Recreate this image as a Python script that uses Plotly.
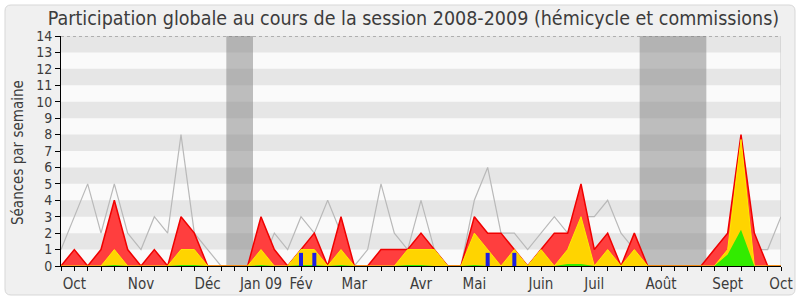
import plotly.graph_objects as go

# --- data (week index 0..54) ---
weeks = list(range(55))
median_line = [1, 3, 5, 2, 5, 2, 1, 3, 2, 8, 2, 1, 0, 0, 0, 0, 2, 1, 3, 2,
               4, 2, 0, 1, 5, 2, 1, 4, 1, 0, 0, 4, 6, 2, 2, 1, 2, 3, 2, 3,
               3, 4, 2, 1, 0, 0, 0, 0, 0, 1, 2, 4, 1, 1, 3]
total = [0, 1, 0, 1, 4, 1, 0, 1, 0, 3, 2, 0, 0, 0, 0, 3, 1, 0, 1, 2,
         0, 3, 0, 0, 1, 1, 1, 2, 1, 0, 0, 3, 2, 2, 1, 0, 1, 2, 2, 5,
         1, 2, 0, 2, 0, 0, 0, 0, 0, 1, 2, 8, 2, 0, 0]
hemicycle = [0, 0, 0, 0, 1, 0, 0, 0, 0, 1, 1, 0, 0, 0, 0, 1, 0, 0, 1, 1,
             0, 1, 0, 0, 0, 0, 1, 1, 1, 0, 0, 2, 1, 0, 1, 0, 1, 0, 1, 3,
             0, 1, 0, 1, 0, 0, 0, 0, 0, 0, 1, 7.7, 0, 0, 0]
interventions = [0, 0, 0, 0, 0.06, 0, 0, 0, 0, 0.06, 0.06, 0, 0, 0, 0, 0.06, 0, 0, 0.06, 0.06,
                 0, 0.06, 0, 0, 0, 0, 0.06, 0.06, 0, 0, 0, 0.06, 0, 0, 0, 0, 0, 0, 0.12, 0.12,
                 0, 0, 0, 0, 0, 0, 0, 0, 0, 0, 0.7, 2.2, 0, 0, 0]
question_weeks = [18, 19, 32, 34]
question_values = [0.8, 0.8, 0.8, 0.8]
vacations = [(12.4, 14.4), (43.4, 48.4)]
month_pos = [1, 6, 11, 15, 18, 22, 27, 31, 36, 40, 45, 50, 54]
month_labels = ["Oct", "Nov", "Déc", "Jan 09", "Fév", "Mar", "Avr", "Mai",
                "Juin", "Juil", "Août", "Sept", "Oct"]
ymax = 14
xmax = 54

FONT = "DejaVu Sans Condensed, DejaVu Sans, sans-serif"
TXT = "rgb(60,60,60)"

fig = go.Figure()
fig.add_trace(go.Scatter(x=weeks, y=median_line, mode="lines",
                         line=dict(color="rgb(185,185,185)", width=1.2),
                         hoverinfo="skip"))
fig.add_trace(go.Scatter(x=weeks, y=total, mode="lines", fill="tozeroy",
                         fillcolor="rgb(255,62,62)",
                         line=dict(color="rgb(240,0,0)", width=1.5),
                         hoverinfo="skip"))
fig.add_trace(go.Scatter(x=weeks, y=hemicycle, mode="lines", fill="tozeroy",
                         fillcolor="rgb(255,212,0)",
                         line=dict(color="rgb(255,235,0)", width=1),
                         hoverinfo="skip"))
fig.add_trace(go.Scatter(x=weeks, y=interventions, mode="lines", fill="tozeroy",
                         fillcolor="rgb(50,235,0)",
                         line=dict(color="rgb(50,235,0)", width=0),
                         hoverinfo="skip"))
bx, by = [], []
for w, v in zip(question_weeks, question_values):
    bx += [w, w, None]
    by += [0, v, None]
fig.add_trace(go.Scatter(x=bx, y=by, mode="lines",
                         line=dict(color="rgb(30,30,225)", width=4),
                         hoverinfo="skip"))

# --- background shapes ---
W, H = 800, 300
L, R, T, B = 61, 19, 36, 34
pw, ph = W - L - R, H - T - B

def px(xp):
    return (xp - L) / pw

def py(yp):
    return (H - B - yp) / ph

x0, x1, y0, y1 = px(5), px(795), py(295), py(5)
rx, ry = 6 / pw, 6 / ph
path = (f"M {x0+rx},{y1} L {x1-rx},{y1} Q {x1},{y1} {x1},{y1-ry} "
        f"L {x1},{y0+ry} Q {x1},{y0} {x1-rx},{y0} L {x0+rx},{y0} "
        f"Q {x0},{y0} {x0},{y0+ry} L {x0},{y1-ry} Q {x0},{y1} {x0+rx},{y1} Z")
shapes = [dict(type="path", path=path, xref="paper", yref="paper",
               fillcolor="rgb(240,240,240)", line=dict(color="rgb(215,215,215)", width=1),
               layer="below")]
shapes.append(dict(type="rect", xref="x", yref="y", x0=0, x1=xmax, y0=0, y1=ymax,
                   fillcolor="rgb(250,250,250)", line=dict(width=0), layer="below"))
for k in range(1, ymax, 2):
    shapes.append(dict(type="rect", xref="x", yref="y", x0=0, x1=xmax, y0=k, y1=k + 1,
                       fillcolor="rgb(230,230,230)", line=dict(width=0), layer="below"))
for a, b in vacations:
    shapes.append(dict(type="rect", xref="x", yref="y", x0=a, x1=b, y0=0, y1=ymax,
                       fillcolor="rgba(128,128,128,0.5)", line=dict(width=0), layer="below"))
shapes.append(dict(type="line", xref="x", yref="y", x0=0, x1=xmax, y0=ymax, y1=ymax,
                   line=dict(color="rgb(120,120,120)", width=1, dash="dot"), layer="below"))
shapes.append(dict(type="line", xref="x", yref="y", x0=xmax, x1=xmax, y0=0, y1=ymax,
                   line=dict(color="rgb(200,200,200)", width=1), layer="below"))

fig.update_layout(
    width=W, height=H,
    margin=dict(l=L, r=R, t=T, b=B, pad=0, autoexpand=False),
    paper_bgcolor="white", plot_bgcolor="rgba(0,0,0,0)",
    showlegend=False,
    shapes=shapes,
    title=dict(text="Participation globale au cours de la session 2008-2009 (hémicycle et commissions)",
               x=413.5 / W, xanchor="center", xref="container",
               y=1 - 18 / H, yanchor="middle", yref="container",
               font=dict(family=FONT, size=19.5, color=TXT)),
    annotations=[dict(text="Séances par semaine", textangle=-90, showarrow=False,
                      xref="paper", yref="paper", x=px(18), y=py(153),
                      xanchor="center", yanchor="middle",
                      font=dict(family=FONT, size=15, color=TXT))],
    xaxis=dict(range=[0, xmax], tickmode="array", tickvals=month_pos, ticktext=month_labels,
               ticks="outside", ticklen=4, tickcolor="black", showgrid=False, zeroline=False,
               showline=True, linecolor="black", linewidth=1, automargin=False,
               tickfont=dict(family=FONT, size=15, color=TXT),
               minor=dict(ticks="outside", ticklen=4, tickcolor="black", dtick=1, tick0=0,
                          showgrid=False)),
    yaxis=dict(range=[0, ymax], dtick=1, tick0=0, ticks="outside", ticklen=5, tickcolor="black",
               showgrid=False, zeroline=False, showline=True, linecolor="black", linewidth=1,
               automargin=False,
               tickfont=dict(family=FONT, size=14, color=TXT)),
)

fig.write_html("out.html")
